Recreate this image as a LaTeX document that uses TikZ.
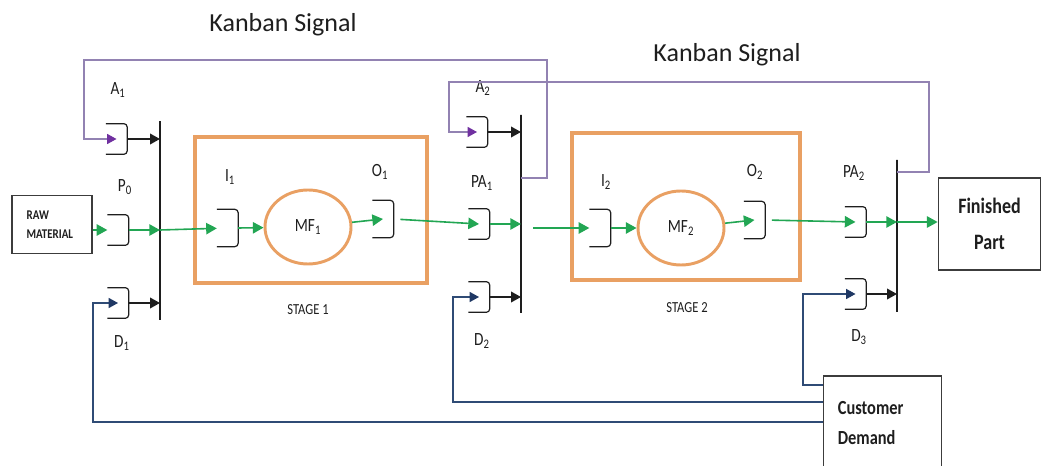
\documentclass[tikz,border=0pt]{standalone}
\usepackage{fontspec}
\setmainfont{Carlito}
\newfontfamily\narrow[FakeStretch=0.82]{Carlito}
\usetikzlibrary{arrows.meta,shapes.geometric}
\definecolor{Ink}{HTML}{1E1E1E}
\definecolor{Frame}{HTML}{3C3C3C}
\definecolor{StageOrange}{HTML}{E9A063}
\definecolor{FlowGreen}{HTML}{22A653}
\definecolor{KanbanLine}{HTML}{9282B2}
\definecolor{KanbanHead}{HTML}{7030A0}
\definecolor{DemandLine}{HTML}{2F4B75}
\definecolor{DemandHead}{HTML}{1F3864}

\begin{document}
\begin{tikzpicture}[
  x=0.75pt, y=-0.75pt,
  lbl/.style={font=\narrow\fontsize{14}{16}\selectfont, text=Ink, inner sep=1pt},
  stagelbl/.style={font=\narrow\fontsize{11.5}{13}\selectfont, text=Ink, inner sep=1pt},
  title/.style={font=\fontsize{19.5}{22}\selectfont, text=Ink, inner sep=1pt},
  buf/.style={minimum width=16pt, minimum height=23pt, inner sep=0pt, outer sep=0pt},
  tallbuf/.style={buf, minimum height=28pt},
  bracket/.style={draw=Ink, line width=0.9pt, rounded corners=2.5pt},
  bar/.style={draw=Ink, line width=0.9pt, minimum width=0pt, inner sep=0pt, outer sep=0pt},
  stagebox/.style={draw=StageOrange, line width=3pt, inner sep=0pt},
  mf/.style={ellipse, draw=StageOrange, line width=2.2pt, minimum width=64.5pt, minimum height=55.5pt, inner sep=0pt, font=\narrow\fontsize{14}{16}\selectfont, text=Ink},
  endbox/.style={draw=Frame, line width=0.8pt, fill=white, text=Ink},
  flow/.style={-{Triangle[length=8pt,width=8.5pt]}, draw=FlowGreen, line width=1.2pt},
  sig/.style={-{Triangle[length=7.5pt,width=8pt]}, draw=Ink, line width=1.1pt},
  kanban/.style={-{Triangle[length=7pt,width=7.5pt,color=KanbanHead]}, draw=KanbanLine, line width=0.9pt},
  demand/.style={-{Triangle[length=7pt,width=7.5pt,color=DemandHead]}, draw=DemandLine, line width=1pt}
]
\useasboundingbox (0,0) rectangle (1043,466);

% stages
\node[stagebox, minimum width=174pt, minimum height=109.5pt] (stage1) at (311,210) {};
\node[stagebox, minimum width=171pt, minimum height=110pt] (stage2) at (686,206.5) {};
\node[mf] (mf1) at (308,227) {MF\textsubscript{1}};
\node[mf] (mf2) at (681,228) {MF\textsubscript{2}};
\node[stagelbl] (st1) at (308,310) {STAGE 1};
\node[stagelbl] (st2) at (687,308) {STAGE 2};

% posts
\node[bar, minimum height=149pt] (bar0) at (160,220.5) {};
\node[bar, minimum height=148.5pt] (bar1) at (521,214) {};
\node[bar, minimum height=114pt] (bar2) at (897,236) {};

% buffers
\node[buf] (a1) at (116.5,139) {};
\node[buf] (p0) at (118,230) {};
\node[buf] (d1) at (118,303) {};
\node[tallbuf] (i1) at (227.5,228) {};
\node[tallbuf] (o1) at (383,219) {};
\node[buf] (a2) at (477,132) {};
\node[buf] (pa1) at (479,224) {};
\node[buf] (d2) at (479,297) {};
\node[tallbuf] (i2) at (600,228) {};
\node[tallbuf] (o2) at (754.5,220) {};
\node[buf] (pa2) at (855.5,222) {};
\node[buf] (d3) at (855.5,294) {};
\foreach \b in {a1,p0,d1,i1,o1,a2,pa1,d2,i2,o2,pa2,d3}
  \draw[bracket] (\b.north west) -- (\b.north east) -- (\b.south east) -- (\b.south west);

% labels
\node[lbl] (la1) at (118,90) {A\textsubscript{1}};
\node[lbl] (lp0) at (125,187) {P\textsubscript{0}};
\node[lbl] (ld1) at (122,343) {D\textsubscript{1}};
\node[lbl] (li1) at (230,177) {I\textsubscript{1}};
\node[lbl] (lo1) at (380,172) {O\textsubscript{1}};
\node[lbl] (la2) at (483,88) {A\textsubscript{2}};
\node[lbl] (lpa1) at (482,183) {PA\textsubscript{1}};
\node[lbl] (ld2) at (482,341) {D\textsubscript{2}};
\node[lbl] (li2) at (606,182) {I\textsubscript{2}};
\node[lbl] (lo2) at (755,172) {O\textsubscript{2}};
\node[lbl] (lpa2) at (854,173) {PA\textsubscript{2}};
\node[lbl] (ld3) at (859,337) {D\textsubscript{3}};
\node[title] (kan1) at (283,25) {Kanban Signal};
\node[title] (kan2) at (727,55) {Kanban Signal};

% end boxes
\node[endbox, minimum width=60pt, minimum height=43pt, inner xsep=11pt, text width=38pt, align=left,
  font=\narrow\bfseries\fontsize{10}{14}\selectfont] (raw) at (52,224.5) {RAW\\MATERIAL};
\node[endbox, minimum width=77pt, minimum height=69pt, align=center,
  font=\narrow\bfseries\fontsize{16.5}{27}\selectfont] (fin) at (989.5,224) {Finished\\Part};
\node[endbox, minimum width=89pt, minimum height=70.5pt, inner xsep=11pt, text width=67pt, align=left,
  font=\narrow\bfseries\fontsize{15}{23}\selectfont] (cust) at (882.5,423) {Customer\\Demand};

% material flow
\draw[flow] (p0 -| raw.east) -- (p0);
\draw[flow] (p0.east) -- (p0 -| bar0.west);
\draw[flow] (p0 -| bar0.east) -- (i1);
\draw[flow] (i1.east) -- (mf1);
\draw[flow] (mf1) -- (o1.center);
\draw[flow, shorten <=5pt] (o1.east) -- (pa1.center);
\draw[flow] (pa1.east) -- (pa1 -| bar1.west);
\draw[flow, shorten <=9pt] (i2 -| bar1.east) -- (i2);
\draw[flow] (i2.east) -- (mf2);
\draw[flow] (mf2) -- (o2.center);
\draw[flow, shorten <=5pt] (o2.east) -- (pa2.center);
\draw[flow] (pa2.east) -- (pa2 -| bar2.west);
\draw[flow] (pa2 -| bar2.east) -- (pa2 -| fin.west);

% authorisation and demand into the posts
\foreach \b/\r in {a1/bar0, d1/bar0, a2/bar1, d2/bar1, d3/bar2}
  \draw[sig] (\b.east) -- (\b.east -| \r.west);

% kanban loops
\coordinate (k1turn) at (547,178);
\coordinate (k1top) at (84,60);
\coordinate (k2turn) at (929,172);
\coordinate (k2top) at (449,82);
\draw[kanban] (bar1.east |- k1turn) -- (k1turn) |- (k1top) |- (a1.center);
\draw[kanban] (bar2.east |- k2turn) -- (k2turn) |- (k2top) |- (a2.center);

% customer demand
\coordinate (dm1) at (93,422);
\coordinate (dm2) at (453,402);
\coordinate (dm3) at (803,385);
\draw[demand] (dm1 -| cust.west) -- (dm1) |- (d1.center);
\draw[demand] (dm2 -| cust.west) -- (dm2) |- (d2.center);
\draw[demand] (dm3 -| cust.west) -- (dm3) |- (d3.center);
\end{tikzpicture}
\end{document}
